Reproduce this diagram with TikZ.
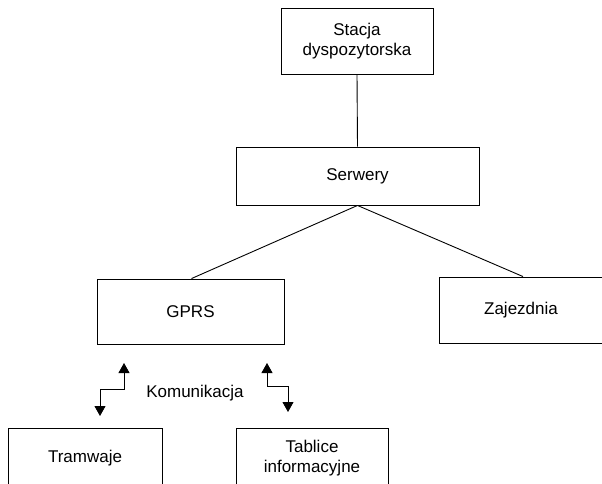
\documentclass[tikz,border=0pt]{standalone}
\usepackage{fontspec}
\setmainfont{Liberation Sans}
\usetikzlibrary{arrows.meta}
\tikzset{
  box/.style={draw, line width=0.9pt, rectangle, inner sep=0pt, align=center, font=\fontsize{17}{19.5}\selectfont},
  link/.style={line width=0.9pt},
  comm/.style={line width=0.9pt, {Triangle[length=10pt,width=11pt]}-{Triangle[length=10pt,width=11pt]}},
  lbl/.style={font=\fontsize{17}{19.5}\selectfont, inner sep=0pt}
}
\begin{document}
\begin{tikzpicture}[x=1pt,y=-1pt]
\useasboundingbox (0,0) rectangle (602,483);
\node[box, minimum width=152pt, minimum height=66pt] (stacja) at (357,41) {Stacja\\dyspozytorska};
\node[box, minimum width=243pt, minimum height=58pt] (serw) at (357.5,176) {Serwery};
\node[box, minimum width=187pt, minimum height=65pt] (gprs) at (190.5,311.5) {GPRS};
\node[box, minimum width=164pt, minimum height=66pt] (zaj) at (521,310) {Zajezdnia};
\node[box, minimum width=154pt, minimum height=60pt] (tram) at (85,458) {Tramwaje};
\node[box, minimum width=152pt, minimum height=60pt] (tabl) at (312,458) {Tablice\\informacyjne};
\node[lbl] (kom) at (195,393) {Komunikacja};
\draw[link] (stacja.south) -- (serw.north);
\draw[link] (serw.south) -- ([xshift=1pt]gprs.north);
\draw[link] (serw.south) -- ([xshift=2pt]zaj.north);
\coordinate (l1) at (124,363);
\coordinate (l2) at (100,416);
\coordinate (r1) at (267,363);
\coordinate (r2) at (288,412);
\draw[comm] (l1) -- (124,389) -- (100,389) -- (l2);
\draw[comm] (r1) -- (267,386) -- (288,386) -- (r2);
\end{tikzpicture}
\end{document}
